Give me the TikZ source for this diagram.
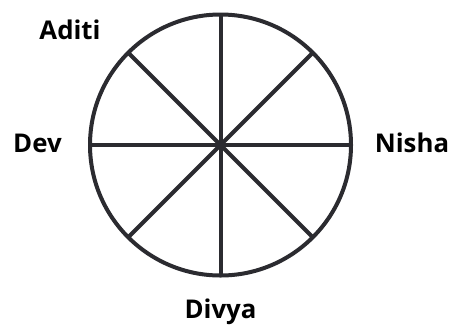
\documentclass[tikz,border=0pt]{standalone}
\usepackage{fontspec}
\setmainfont{Open Sans}
\usetikzlibrary{calc}
\definecolor{ink}{HTML}{2B2B30}
\begin{document}
\begin{tikzpicture}[x=1pt,y=-1pt,
  wheel/.style={draw=ink,line width=4pt},
  lbl/.style={anchor=base,inner sep=0pt,font=\fontsize{25.8}{30}\selectfont\bfseries,text=black}]
\useasboundingbox (0,0) rectangle (454,325);
\coordinate (c) at (220.5,145);
\draw[wheel] (c) circle[radius=130.5];
\foreach \a in {0,45,90,135} {
  \draw[wheel] ($(c)+(\a:130.5)$) -- ($(c)+(\a+180:130.5)$);
}
\node[lbl] (aditi) at (70,39) {Aditi};
\node[lbl] (dev) at (37.5,152.5) {Dev};
\node[lbl] (nisha) at (412,152.5) {Nisha};
\node[lbl] (divya) at (220.5,318.5) {Divya};
\end{tikzpicture}
\end{document}
